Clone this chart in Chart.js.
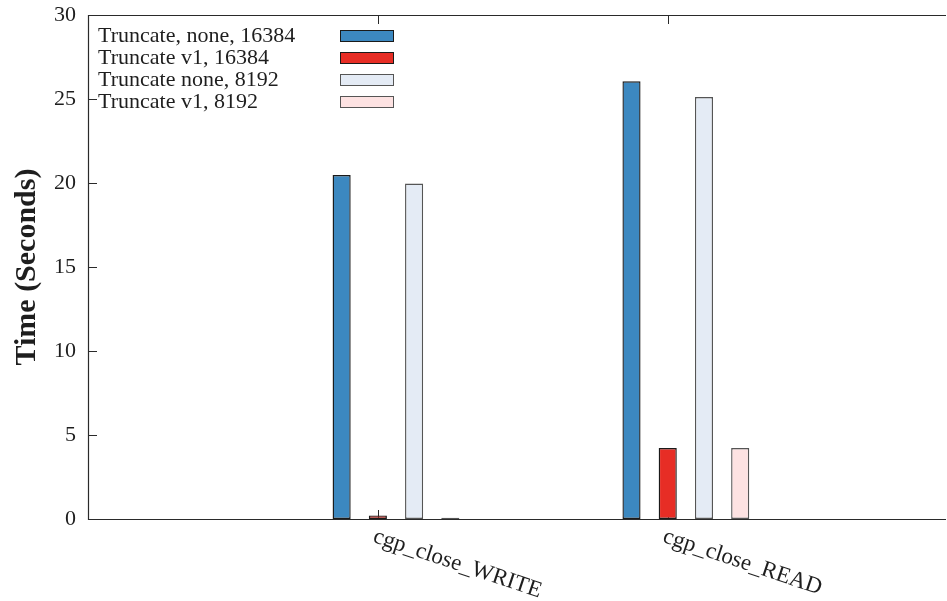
<!DOCTYPE html>
<html>
<head>
<meta charset="utf-8">
<script src="https://cdn.jsdelivr.net/npm/chart.js@4.4.1/dist/chart.umd.min.js"></script>
<style>
  html, body { margin: 0; padding: 0; background: #ffffff; }
  #wrap { width: 947px; height: 601px; position: relative; }
</style>
</head>
<body>
<div id="wrap"><canvas id="c" width="947" height="601"></canvas></div>
<script>
// ---- data ----
const categories = ['cgp_close_WRITE', 'cgp_close_READ'];
const seriesLabels = ['Truncate, none, 16384', 'Truncate v1, 16384', 'Truncate none, 8192', 'Truncate v1, 8192'];
const noneLarge = [20.47, 26.05];
const v1Large   = [0.21, 4.22];
const noneSmall = [19.97, 25.12];
const v1Small   = [0.07, 4.22];
const yTicks = [0, 5, 10, 15, 20, 25, 30];

// ---- styles ----
const fills   = ['#3c88c0', '#e72d25', '#e4ebf5', '#fde2e2'];
const borders = ['#1a1a1a', '#1a1a1a', '#555555', '#555555'];
const SERIF = '"Liberation Serif", "DejaVu Serif", serif';
const INK = '#1e1e1e';
const slot = 0.125;           // cluster slot width in category units

const allSeries = [noneLarge, v1Large, noneSmall, v1Small];
const datasets = allSeries.map((vals, j) => ({
  label: seriesLabels[j],
  data: categories.map((c, i) => ({ x: i + (j - 1) * slot, y: vals[i] })),
  backgroundColor: fills[j],
  borderColor: borders[j],
  borderWidth: 1.4,
  borderSkipped: false,
  inflateAmount: 0,
  grouped: false,
  barPercentage: 0.5,
  categoryPercentage: 1.0
}));

const framePlugin = {
  id: 'frame',
  beforeDatasetsDraw(chart) {
    const { ctx, chartArea: a, scales: { x, y } } = chart;
    ctx.save();
    ctx.strokeStyle = '#2a2a2a';
    ctx.lineWidth = 1;
    ctx.beginPath();
    yTicks.forEach(v => {
      const py = Math.round(y.getPixelForValue(v)) + 0.5;
      ctx.moveTo(a.left, py); ctx.lineTo(a.left + 9, py);
    });
    categories.forEach((c, i) => {
      const px = Math.round(x.getPixelForValue(i)) + 0.5;
      ctx.moveTo(px, a.top); ctx.lineTo(px, a.top + 9);
      ctx.moveTo(px, a.bottom); ctx.lineTo(px, a.bottom - 9);
    });
    ctx.stroke();
    ctx.restore();
  },
  afterDatasetsDraw(chart) {
    const { ctx, chartArea: a } = chart;
    ctx.save();
    ctx.strokeStyle = '#2a2a2a';
    ctx.lineWidth = 1.2;
    const L = Math.round(a.left) + 0.5, T = Math.round(a.top) + 0.5, B = Math.round(a.bottom) + 0.5;
    ctx.beginPath();
    ctx.moveTo(a.right, T); ctx.lineTo(L, T); ctx.lineTo(L, B); ctx.lineTo(a.right, B);
    ctx.stroke();
    ctx.restore();
  },
  afterDraw(chart) {
    const { ctx, chartArea: a, scales: { x } } = chart;
    ctx.save();
    // legend (text left, swatch right)
    ctx.font = '22px ' + SERIF;
    ctx.textBaseline = 'middle';
    ctx.textAlign = 'left';
    chart.data.datasets.forEach((ds, j) => {
      const cy = a.top + 21 + j * 22;
      ctx.fillStyle = INK;
      ctx.fillText(ds.label, a.left + 10, cy);
      ctx.fillStyle = ds.backgroundColor;
      ctx.fillRect(a.left + 252.5, cy - 5.5, 53, 11);
      ctx.strokeStyle = ds.borderColor;
      ctx.lineWidth = 1;
      ctx.strokeRect(a.left + 252.5, cy - 5.5, 53, 11);
    });
    // rotated x labels
    ctx.fillStyle = INK;
    ctx.font = '23px ' + SERIF;
    categories.forEach((c, i) => {
      const px = x.getPixelForValue(i);
      ctx.save();
      ctx.translate(px - 4, a.bottom + 17);
      ctx.rotate(18.5 * Math.PI / 180);
      ctx.textAlign = 'left';
      ctx.textBaseline = 'middle';
      ctx.fillText(c, 0, 0);
      ctx.restore();
    });
    // y title
    ctx.save();
    ctx.font = 'bold 30px ' + SERIF;
    ctx.translate(27, (a.top + a.bottom) / 2);
    ctx.rotate(-Math.PI / 2);
    ctx.textAlign = 'center';
    ctx.textBaseline = 'middle';
    ctx.fillText('Time (Seconds)', 0, 0);
    ctx.restore();
    ctx.restore();
  }
};

new Chart(document.getElementById('c'), {
  type: 'bar',
  data: { datasets },
  options: {
    responsive: false,
    animation: false,
    layout: { padding: { top: 15, right: 1, bottom: 82, left: 0 } },
    plugins: { legend: { display: false }, tooltip: { enabled: false } },
    scales: {
      x: {
        type: 'linear',
        offset: false,
        min: -1,
        max: 1.96,
        grid: { display: false, drawTicks: false, offset: false },
        border: { display: false },
        ticks: { display: false, stepSize: 1 },
        afterFit(s) { s.height = 0; s.paddingLeft = 0; s.paddingRight = 0; }
      },
      y: {
        min: 0,
        max: 30,
        grid: { display: false, drawTicks: false },
        border: { display: false },
        afterBuildTicks(s) { s.ticks = yTicks.map(v => ({ value: v })); },
        ticks: {
          padding: 12,
          color: INK,
          font: { family: SERIF, size: 22 }
        },
        afterFit(s) { s.width = 88; s.paddingTop = 0; s.paddingBottom = 0; }
      }
    }
  },
  plugins: [framePlugin]
});
</script>
</body>
</html>
